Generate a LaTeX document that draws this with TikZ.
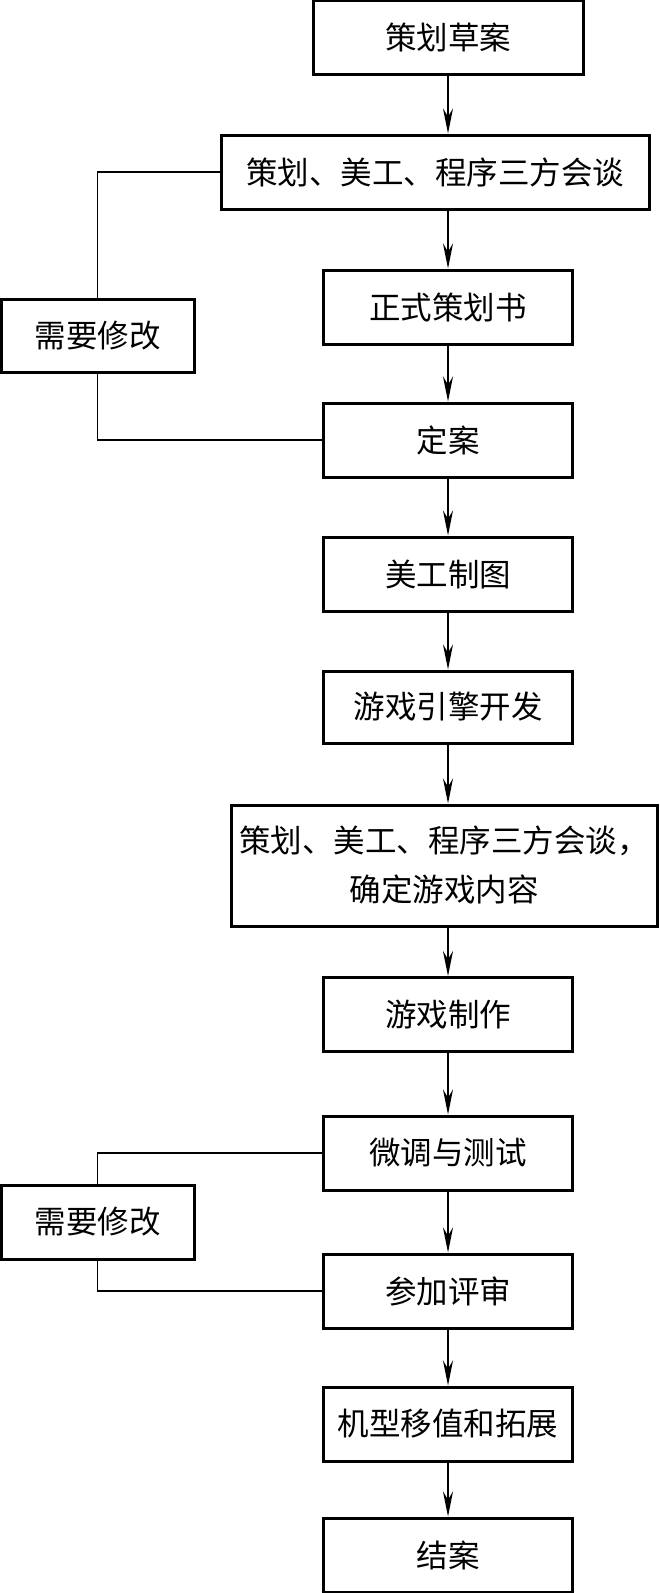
\documentclass[tikz,border=0pt]{standalone}
\usepackage{fontspec}
\setmainfont{Noto Sans CJK SC}
\usetikzlibrary{arrows.meta}
\begin{document}
\begin{tikzpicture}[x=1pt,y=1pt,
  box/.style={draw, line width=3pt, minimum height=74pt, inner sep=0pt, align=center,
    font=\fontsize{31.5}{49}\selectfont},
  conn/.style={line width=1.6pt},
  arr/.style={conn, -{Stealth[length=25pt,width=10pt]}}]
\useasboundingbox (0,0) rectangle (659,-1593);
\node[box, minimum width=270pt] (n1) at (448,-37) {策划草案};
\node[box, minimum width=428pt] (n2) at (435,-172) {策划、美工、程序三方会谈};
\node[box, minimum width=249pt] (n3) at (448,-307) {正式策划书};
\node[box, minimum width=193pt, minimum height=73pt] (m1) at (97.5,-335.5) {需要修改};
\node[box, minimum width=249pt] (n4) at (448,-440) {定案};
\node[box, minimum width=249pt] (n5) at (448,-574) {美工制图};
\node[box, minimum width=249pt, minimum height=72pt] (n6) at (448,-707) {游戏引擎开发};
\node[box, minimum width=426pt, minimum height=121pt] (n7) at (444,-865.5) {策划、美工、程序三方会谈，\\确定游戏内容};
\node[box, minimum width=249pt] (n8) at (448,-1014.5) {游戏制作};
\node[box, minimum width=249pt] (n9) at (448,-1153) {微调与测试};
\node[box, minimum width=193pt] (m2) at (97.5,-1222) {需要修改};
\node[box, minimum width=249pt] (n10) at (448,-1291) {参加评审};
\node[box, minimum width=249pt] (n11) at (448,-1424) {机型移值和拓展};
\node[box, minimum width=249pt] (n12) at (448,-1555) {结案};
\draw[arr] (n1.south) -- (n1.south |- n2.north);
\draw[arr] (n3.north |- n2.south) -- (n3.north);
\draw[arr] (n3.south) -- (n4.north);
\draw[arr] (n4.south) -- (n5.north);
\draw[arr] (n5.south) -- (n6.north);
\draw[arr] (n6.south) -- (n6.south |- n7.north);
\draw[arr] (n8.north |- n7.south) -- (n8.north);
\draw[arr] (n8.south) -- (n9.north);
\draw[arr] (n9.south) -- (n10.north);
\draw[arr] (n10.south) -- (n11.north);
\draw[arr] (n11.south) -- (n12.north);
\draw[conn] (n2.west) -| (m1.north);
\draw[conn] (m1.south) |- (n4.west);
\draw[conn] (n9.west) -| (m2.north);
\draw[conn] (m2.south) |- (n10.west);
\end{tikzpicture}
\end{document}
